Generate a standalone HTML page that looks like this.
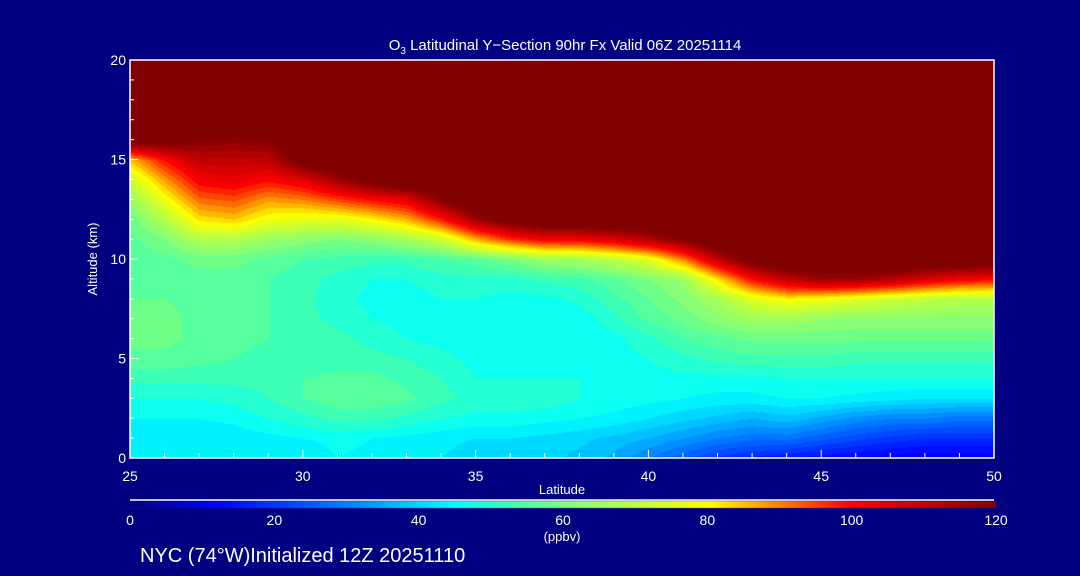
<!DOCTYPE html>
<html><head><meta charset="utf-8"><style>
html,body{margin:0;padding:0;background:#000080;}
#wrap{position:relative;width:1080px;height:576px;background:#000080;overflow:hidden;font-family:"Liberation Sans",sans-serif;color:#fff;}
canvas{position:absolute;left:0;top:0;}
svg{position:absolute;left:0;top:0;}
</style></head><body>
<div id="wrap">
<canvas id="heat" width="1080" height="576"></canvas>
<svg id="ax" width="1080" height="576"></svg>
</div>
<script>
// Latitudes (columns) and altitudes (rows, top = 20 km)
const lats = [25,26,27,28,29,30,31,32,33,34,35,36,37,38,39,40,41,42,43,44,45,46,47,48,49,50];
const alts = [20,19,18,17,16,15,14,13,12,11,10,9,8,7,6,5,4,3,2,1,0];
const o3 = [
[130,130,130,130,130,130,130,130,130,130,130,130,130,130,130,130,130,130,130,130,130,130,130,130,130,130],
[130,130,130,130,130,130,130,130,130,130,130,130,130,130,130,130,130,130,130,130,130,130,130,130,130,130],
[130,130,130,130,130,130,130,130,130,130,130,130,130,130,130,130,130,130,130,130,130,130,130,130,130,130],
[130,130,130,130,130,130,130,130,130,130,130,130,130,130,130,130,130,130,130,130,130,130,130,130,130,130],
[125,125,120,118,120,130,130,130,130,130,130,130,130,130,130,130,130,130,130,130,130,130,130,130,130,130],
[85,100,110,110,110,125,130,130,130,130,130,130,130,130,130,130,130,130,130,130,130,130,130,130,130,130],
[72,88,102,104,100,105,115,125,130,130,130,130,130,130,130,130,130,130,130,130,130,130,130,130,130,130],
[64,78,92,94,88,90,95,100,104,120,130,130,130,130,130,130,130,130,130,130,130,130,130,130,130,130],
[58,68,82,84,78,76,76,80,86,98,115,125,130,130,130,130,130,130,130,130,130,130,130,130,130,130],
[56,60,68,68,64,62,60,62,66,72,86,96,102,102,106,112,120,130,130,130,130,130,130,130,130,130],
[55,56,58,58,56,54,53,52,52,54,56,60,65,66,70,76,90,110,125,130,130,130,130,130,130,130],
[56,56,56,56,54,52,50,48,48,50,50,50,52,53,56,60,64,82,100,110,116,116,112,106,102,100],
[57,57,56,56,54,52,49,47,46,48,48,47,47,49,53,57,61,66,75,80,78,75,72,70,68,68],
[58,58,56,56,54,52,50,48,47,47,46,45,45,46,50,55,58,62,65,65,63,62,62,62,62,62],
[58,58,56,55,54,53,52,50,48,47,46,45,45,45,47,50,54,56,58,58,58,58,58,58,58,58],
[56,56,55,54,53,52,52,52,51,49,47,46,46,46,47,48,50,52,53,53,53,52,52,52,52,52],
[52,52,52,52,52,54,55,55,53,51,48,48,48,48,48,47,47,47,47,48,48,48,48,48,48,48],
[48,48,48,49,51,54,56,56,55,52,50,50,50,48,47,46,45,44,44,45,45,44,43,42,42,42],
[45,45,45,46,48,50,52,52,50,48,47,47,46,45,44,42,40,38,36,38,35,32,30,30,28,28],
[42,42,42,43,44,45,46,45,44,43,42,42,41,40,38,36,33,30,28,28,25,22,20,18,18,18],
[42,42,42,42,42,42,45,44,42,42,40,40,40,38,35,30,25,20,17,15,13,12,10,10,10,10]
];
const xTicks = [25,30,35,40,45,50];
const yTicks = [0,5,10,15,20];
const cbTicks = [0,20,40,60,80,100,120];

const PX0=130, PX1=994, PY0=60, PY1=458;
const xS = v => PX0 + (v-25)/(50-25)*(PX1-PX0);
const yS = v => PY1 - v/20*(PY1-PY0);
const CB0=130, CB1=996;
const cS = v => CB0 + v/120*(CB1-CB0);

const stops=[[0,[0,0,128]],[12,[0,0,255]],[30,[0,128,255]],[45,[0,255,255]],[53,[64,255,176]],[62,[140,255,112]],[80,[255,255,0]],[100,[255,0,0]],[120,[128,0,0]]];
function cmap(v){
  if(v<=0)return stops[0][1]; if(v>=120)return stops[stops.length-1][1];
  for(let i=1;i<stops.length;i++){ if(v<=stops[i][0]){const a=stops[i-1],b=stops[i],t=(v-a[0])/(b[0]-a[0]);
    return [0,1,2].map(k=>Math.round(a[1][k]+(b[1][k]-a[1][k])*t));}}
}
function val(lat,alt){
  let fi=(lat-lats[0]); let fj=(alts[0]-alt);
  fi=Math.max(0,Math.min(lats.length-1.0001,fi)); fj=Math.max(0,Math.min(alts.length-1.0001,fj));
  const i=Math.floor(fi),j=Math.floor(fj),ti=fi-i,tj=fj-j;
  const a=o3[j][i],b=o3[j][i+1],c=o3[j+1][i],d=o3[j+1][i+1];
  return (a*(1-ti)+b*ti)*(1-tj)+(c*(1-ti)+d*ti)*tj;
}
const cv=document.getElementById('heat'),ctx=cv.getContext('2d');
const W=PX1-PX0,H=PY1-PY0,img=ctx.createImageData(W,H);
for(let y=0;y<H;y++)for(let x=0;x<W;x++){
  const lat=25+x/W*25, alt=20-y/H*20;
  let v=val(lat,alt); v=Math.floor(v/3)*3+1.5;
  const c=cmap(v),p=(y*W+x)*4; img.data[p]=c[0];img.data[p+1]=c[1];img.data[p+2]=c[2];img.data[p+3]=255;
}
ctx.putImageData(img,PX0,PY0);
// colorbar
for(let x=CB0;x<CB1;x++){const c=cmap((x-CB0)/(CB1-CB0)*120);ctx.fillStyle=`rgb(${c[0]},${c[1]},${c[2]})`;ctx.fillRect(x,501,1,7);}

const NS='http://www.w3.org/2000/svg', svg=document.getElementById('ax');
function mk(tag,attrs,txt){const e=document.createElementNS(NS,tag);for(const k in attrs)e.setAttribute(k,attrs[k]);if(txt!==undefined)e.textContent=txt;svg.appendChild(e);return e;}
let e;
e=mk('rect',{x:PX0,y:PY0,width:PX1-PX0,height:PY1-PY0,fill:'none',stroke:'#fff','stroke-width':1.5});


e=mk('line',{x1:CB0,x2:CB1-2,y1:500,y2:500,stroke:'#fff','stroke-width':1.5});


for(let l=25;l<=50;l++){
  const big=(l%5===0);
  e=mk('line',{x1:xS(l),x2:xS(l),y1:PY1,y2:PY1-(big?8:5),stroke:'#fff','stroke-width':1});
  
  
}
xTicks.forEach(t=>{
  e=mk('text',{x:xS(t),y:PY1+23,'font-size':14,fill:'#fff','text-anchor':'middle'},String(t));
  
  
});
for(let a=0;a<=20;a++){
  e=mk('line',{x1:PX0,x2:PX0+(a%5===0?8:4),y1:yS(a),y2:yS(a),stroke:'#fff','stroke-width':1});
  
  
}
yTicks.forEach(t=>{
  e=mk('text',{x:PX0-4,y:yS(t)+5,'font-size':14,fill:'#fff','text-anchor':'end'},String(t));
  
  
});
cbTicks.forEach(t=>{
  e=mk('text',{x:cS(t),y:525,'font-size':14,fill:'#fff','text-anchor':'middle'},String(t));
  
  
});
</script>
<svg width="1080" height="576" style="position:absolute;left:0;top:0">
<text x="565" y="50" font-size="15" fill="#fff" text-anchor="middle" font-family="Liberation Sans">O<tspan font-size="10" dy="4">3</tspan><tspan dy="-4"> Latitudinal Y−Section 90hr  Fx Valid 06Z 20251114</tspan></text>
<text x="562" y="494" font-size="13" fill="#fff" text-anchor="middle" font-family="Liberation Sans">Latitude</text>
<text x="0" y="0" font-size="13" fill="#fff" text-anchor="middle" font-family="Liberation Sans" transform="translate(97,259) rotate(-90)">Altitude (km)</text>
<text x="562" y="541" font-size="13" fill="#fff" text-anchor="middle" font-family="Liberation Sans">(ppbv)</text>
<text x="140" y="562" font-size="20" fill="#fff" font-family="Liberation Sans">NYC (74°W)Initialized 12Z 20251110</text>
</svg>
</body></html>
